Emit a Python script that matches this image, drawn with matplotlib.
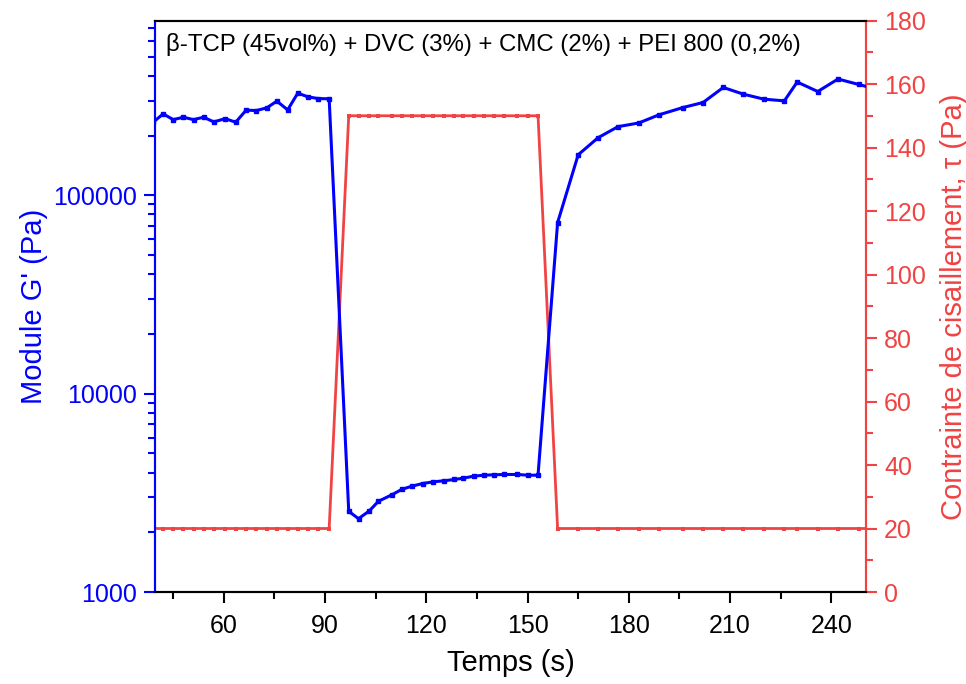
import numpy as np
import matplotlib
matplotlib.use('Agg')
import matplotlib.pyplot as plt
from matplotlib.ticker import MultipleLocator, LogLocator, NullFormatter, FixedLocator

plt.rcParams['font.family'] = ['Liberation Sans', 'DejaVu Sans']

# temps (s)
temps = [39, 42, 45, 48, 51, 54, 57, 60.4, 63.5, 66.6, 69.6, 72.7, 75.7, 78.9,
         81.9, 84.9, 87.9, 91.2,
         97, 99.9, 103.1, 105.8, 109.9, 112.8, 115.7, 118.9, 122.1, 125.1,
         128.3, 130.9, 134, 137, 140.1, 143.1, 147, 150, 153.1,
         158.9, 165, 170.9, 176.8, 183, 188.9, 196, 202, 208, 213.9, 220,
         226.1, 229.9, 236, 242, 248.1, 254]

# module G' (Pa)
module_g = [2.33e5, 2.572e5, 2.405e5, 2.474e5, 2.405e5, 2.474e5, 2.342e5, 2.434e5,
            2.334e5, 2.685e5, 2.673e5, 2.757e5, 2.981e5, 2.694e5, 3.272e5,
            3.134e5, 3.073e5, 3.062e5,
            2551, 2342, 2563, 2866, 3098, 3296, 3414, 3523, 3593, 3635, 3691,
            3747, 3835, 3880, 3898, 3912, 3912, 3880, 3880,
            7.28e4, 1.60e5, 1.95e5, 2.217e5, 2.315e5, 2.542e5, 2.767e5, 2.934e5,
            3.494e5, 3.235e5, 3.051e5, 2.991e5, 3.721e5, 3.334e5, 3.853e5,
            3.619e5, 3.40e5]

# contrainte de cisaillement (Pa)
tau = [20] * 18 + [150] * 19 + [20] * 17

blue = '#0000ff'
red = '#f04343'

fig = plt.figure(figsize=(9.66, 6.84), dpi=100)
ax = fig.add_axes([0.1605, 0.1345, 0.736, 0.8355])
ax2 = ax.twinx()

ax.plot(temps, module_g, color=blue, lw=2.2, marker='s', ms=2.8, zorder=3)
ax2.plot(temps, tau, color=red, lw=2.0, marker='s', ms=2.9, mew=0)
ax.set_zorder(ax2.get_zorder() + 1)
ax.patch.set_visible(False)

ax.set_yscale('log')
ax.set_ylim(1000, 7.6e5)
ax.set_xlim(39.6, 250.3)
ax2.set_ylim(0, 180)

ax.yaxis.set_major_locator(FixedLocator([1000, 10000, 100000]))
ax.yaxis.set_major_formatter(plt.FuncFormatter(lambda v, p: '%d' % v))
ax.yaxis.set_minor_locator(LogLocator(base=10, subs=np.arange(2, 10)))
ax.yaxis.set_minor_formatter(NullFormatter())

ax.xaxis.set_major_locator(FixedLocator([60, 90, 120, 150, 180, 210, 240]))
ax.xaxis.set_minor_locator(FixedLocator([45, 75, 105, 135, 165, 195, 225]))

ax2.yaxis.set_major_locator(MultipleLocator(20))
ax2.yaxis.set_minor_locator(MultipleLocator(10))

ax.tick_params(axis='x', which='major', length=8, width=1.5, labelsize=18, pad=8)
ax.tick_params(axis='x', which='minor', length=5, width=1.5)
ax.tick_params(axis='y', which='major', length=8, width=1.5, labelsize=18,
               colors=blue, pad=5)
ax.tick_params(axis='y', which='minor', length=5, width=1.5, colors=blue)
ax2.tick_params(axis='y', which='major', length=8, width=1.5, labelsize=18,
                colors=red, pad=5)
ax2.tick_params(axis='y', which='minor', length=5, width=1.5, colors=red)

for a in (ax, ax2):
    for s in a.spines.values():
        s.set_linewidth(1.5)
    a.spines['left'].set_color(blue)
    a.spines['right'].set_color(red)
    a.spines['top'].set_color('black')
    a.spines['bottom'].set_color('black')

ax.set_xlabel('Temps (s)', fontsize=21, labelpad=8)
ax.set_ylabel("Module G' (Pa)", fontsize=21, color=blue, labelpad=4)
ax2.set_ylabel('Contrainte de cisaillement, \u03c4 (Pa)', fontsize=21, color=red,
               labelpad=10)

ax.text(0.016, 0.958, '\u03b2-TCP (45vol%) + DVC (3%) + CMC (2%) + PEI 800 (0,2%)',
        transform=ax.transAxes, fontsize=17.3, va='center', ha='left')

fig.savefig('out.png', dpi=100)
